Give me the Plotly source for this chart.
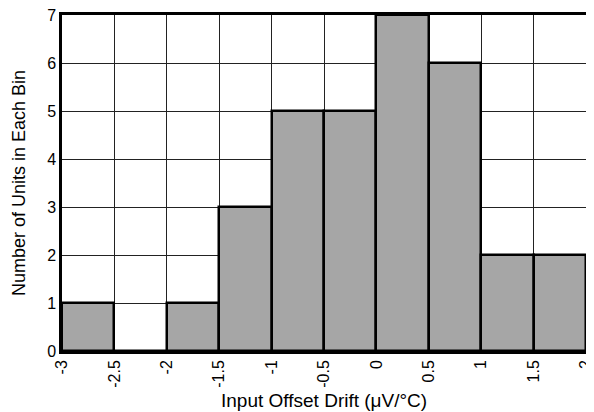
import plotly.graph_objects as go

bin_edges = [-3, -2.5, -2, -1.5, -1, -0.5, 0, 0.5, 1, 1.5, 2]
counts = [1, 0, 1, 3, 5, 5, 7, 6, 2, 2]
x_tick_vals = [-3, -2.5, -2, -1.5, -1, -0.5, 0, 0.5, 1, 1.5, 2]
x_tick_text = ["-3", "-2.5", "-2", "-1.5", "-1", "-0.5", "0", "0.5", "1", "1.5", "2"]
y_tick_vals = [0, 1, 2, 3, 4, 5, 6, 7]
x_title = "Input Offset Drift (\u03bcV/\u00b0C)"
y_title = "Number of Units in Each Bin"

centers = [(a + b) / 2 for a, b in zip(bin_edges[:-1], bin_edges[1:])]
widths = [b - a for a, b in zip(bin_edges[:-1], bin_edges[1:])]

fig = go.Figure()
fig.add_trace(go.Bar(
    x=centers, y=counts, width=widths,
    marker=dict(color="#a6a6a6", line=dict(color="black", width=2.5)),
))

tick_font = dict(family="Liberation Sans, Arial, sans-serif", size=16, color="black")
title_font = dict(family="Liberation Sans, Arial, sans-serif", size=19, color="black")
ytitle_font = dict(family="Liberation Sans, Arial, sans-serif", size=18, color="black")
# page body has an 8px default margin; margins compensate for that offset
fig.update_layout(
    width=594, height=412,
    margin=dict(l=54, r=16, t=7, b=69),
    paper_bgcolor="white", plot_bgcolor="white",
    showlegend=False, bargap=0,
    xaxis=dict(
        range=[-3, 2], tickvals=x_tick_vals, ticktext=x_tick_text, tickangle=-90,
        showgrid=True, gridcolor="#222222", gridwidth=1,
        showline=True, linecolor="black", linewidth=2.5, mirror=True,
        ticks="", zeroline=False, automargin=False, ticklabeloverflow="allow",
        tickfont=tick_font,
    ),
    yaxis=dict(
        range=[0, 7], tickvals=y_tick_vals,
        showgrid=True, gridcolor="#222222", gridwidth=1,
        showline=True, linecolor="black", linewidth=2.5, mirror=True,
        ticks="", zeroline=False, automargin=False, ticklabeloverflow="allow",
        tickfont=tick_font,
    ),
    annotations=[
        dict(text=x_title, xref="paper", yref="paper", x=0.5, y=-0.148,
             xanchor="center", yanchor="middle", showarrow=False, font=title_font),
        dict(text=y_title, xref="paper", yref="paper", x=-0.082, y=0.5,
             xanchor="center", yanchor="middle", showarrow=False, textangle=-90,
             font=ytitle_font),
    ],
)
fig.write_html("out.html")
